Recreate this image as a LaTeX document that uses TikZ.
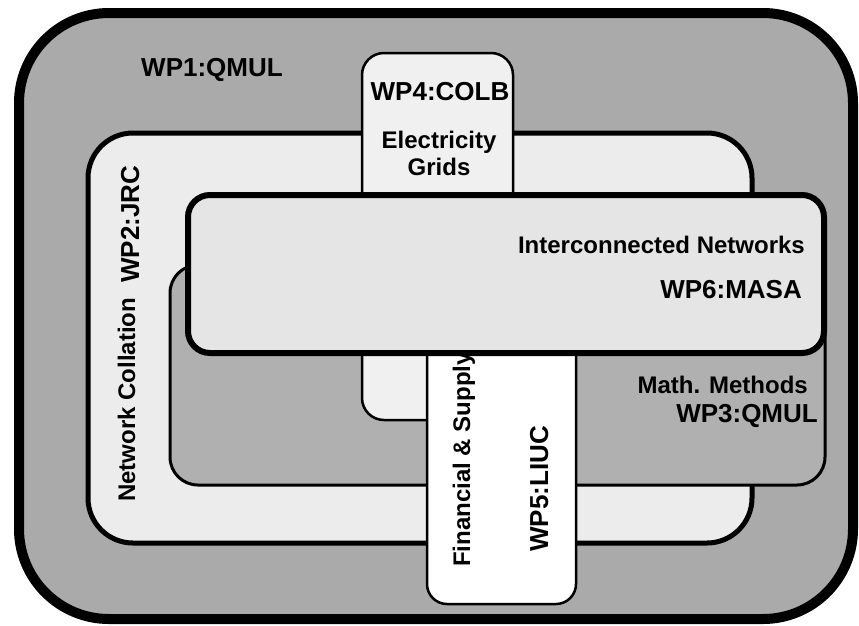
\documentclass[tikz,border=0pt]{standalone}
\usepackage{fontspec}
\setmainfont{Liberation Sans}
\usepackage{xcolor}
\definecolor{wpdark}{RGB}{170,170,170}
\definecolor{wpmath}{RGB}{176,176,176}
\definecolor{wplight}{RGB}{236,236,236}
\definecolor{wpgrid}{RGB}{240,240,240}
\definecolor{wpnet}{RGB}{229,229,229}

\begin{document}
\begin{tikzpicture}[x=1pt,y=-1pt,
  wpbox/.style={draw=black,rounded corners=#1},
  wplabel/.style={font=\fontsize{26}{30}\selectfont\bfseries,inner sep=0pt},
  wptopic/.style={font=\fontsize{24}{27}\selectfont\bfseries,inner sep=0pt}]
  \fill[white] (0,0) rectangle (859,625);
  \useasboundingbox (0,0) rectangle (859,625);
  % work packages, back to front
  \draw[wpbox=90,line width=10pt,fill=wpdark] (19,13) rectangle (853,619);
  \draw[wpbox=45,line width=5pt,fill=wplight] (88,133) rectangle (752,543);
  \draw[wpbox=28,line width=3pt,fill=wpmath] (170,265) rectangle (825,485);
  \draw[wpbox=22,line width=2.5pt,fill=wpgrid] (362,53) rectangle (513,420);
  \draw[wpbox=20,line width=2.5pt,fill=white] (427,300) rectangle (576,604);
  \draw[wpbox=22,line width=6pt,fill=wpnet] (188,195) rectangle (824,353);
  % labels
  \node[wplabel,anchor=base] (wp1) at (212,76){WP1:QMUL};
  \node[wplabel,anchor=base] (wp4) at (440,100){WP4:COLB};
  \node[wptopic,anchor=base] (grid1) at (439,148){Electricity};
  \node[wptopic,anchor=base] (grid2) at (439,175){Grids};
  \node[wptopic,anchor=base east] (net) at (805,253){Interconnected Networks};
  \node[wplabel,anchor=base east] (wp6) at (802,298){WP6:MASA};
  \node[wptopic,anchor=base east] (math) at (808,393){Math. Methods};
  \node[wplabel,anchor=base east] (wp3) at (818,422){WP3:QMUL};
  \node[wplabel,anchor=base west,rotate=90] (wp2) at (139,283){WP2:JRC};
  \node[wptopic,anchor=base west,rotate=90] (coll) at (135,502){Network Collation};
  \node[wptopic,anchor=base west,rotate=90] (fin) at (470,567){Financial \& Supply};
  \node[wplabel,anchor=base west,rotate=90] (wp5) at (548,552){WP5:LIUC};
\end{tikzpicture}
\end{document}
